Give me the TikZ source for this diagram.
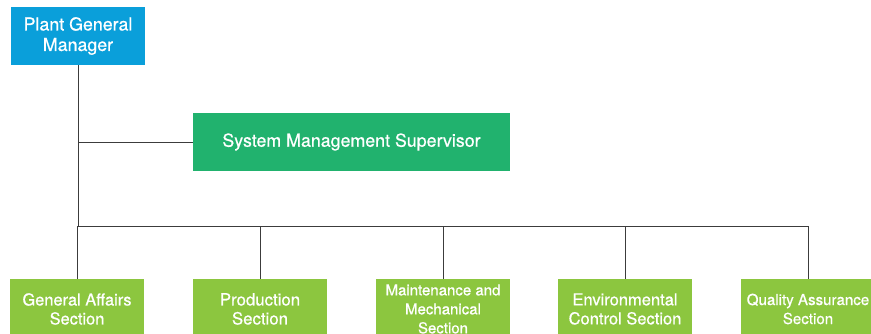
\documentclass[tikz,border=0pt]{standalone}
\usepackage{fontspec}
\setmainfont{TeX Gyre Heros}
\newfontface\boxface{TeX Gyre Heros}[FakeBold=0.6]
\definecolor{mgrblue}{RGB}{10,159,218}
\definecolor{supgreen}{RGB}{33,178,110}
\definecolor{secgreen}{RGB}{140,198,63}
\definecolor{linegray}{RGB}{60,60,60}
\begin{document}
\begin{tikzpicture}[x=1pt,y=-1pt]
	\tikzset{
		box/.style={inner sep=0pt,align=center,text=white},
		manager box/.style={box,fill=mgrblue,minimum width=134pt,minimum height=58pt,
			font=\boxface\fontsize{17.8}{20.5}\selectfont},
		supervisor box/.style={box,fill=supgreen,minimum width=317pt,minimum height=58pt,
			font=\boxface\fontsize{17.8}{20}\selectfont},
		section box/.style={box,fill=secgreen,minimum width=134pt,minimum height=60pt},
		link/.style={line width=0.8pt,color=linegray}
	}
	\useasboundingbox (0,0) rectangle (871,333);
	\clip (0,0) rectangle (871,333);
	\node[manager box] (pgm) at (78,36) {Plant General\\Manager};
	\node[supervisor box] (sms) at (351.5,142) {System Management Supervisor};
	\path
	(pgm |- sms) coordinate (tee)
	(78,226) coordinate (busl)
	(808,226) coordinate (busr);
	\draw[link] (pgm) -- (busl);
	\draw[link] (tee) -- (sms);
	\draw[link] (busl) -- (busr);
	\foreach \n/\x/\fs/\text in {
		ga/77/16.4/General Affairs\\Section,
		prod/260/16.8/Production\\Section,
		mmech/443/15/Maintenance and\\Mechanical\\Section,
		env/625/16.5/Environmental\\Control Section,
		qa/808/15.1/Quality Assurance\\Section
	}{
		\node[section box,font=\boxface\fontsize{\fs}{19}\selectfont] (\n) at (\x,309) {\text};
		\draw[link] (\n) -- (\n |- busl);
	}
\end{tikzpicture}
\end{document}
